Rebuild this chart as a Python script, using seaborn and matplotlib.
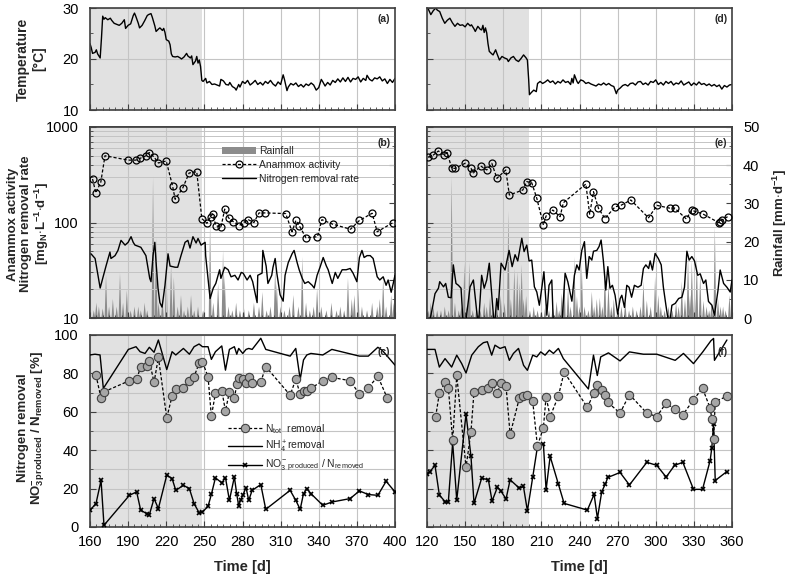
import numpy as np
import matplotlib
matplotlib.use('Agg')
import matplotlib.pyplot as plt
from matplotlib.ticker import MultipleLocator, LogLocator, NullFormatter
from matplotlib.lines import Line2D
from matplotlib.patches import Patch
import seaborn as sns

# ---------------- data: left column (a, b, c) ----------------
temp_a_day = [160, 161, 162, 164, 165, 166, 168, 169, 170, 171, 172, 174, 176, 177, 179, 181, 183, 185, 187, 188,
              190, 192, 194, 195, 196, 198, 199, 201, 203, 205, 206, 208, 209, 211, 212, 214, 215, 217, 218, 219,
              220, 222, 223, 224, 225, 227, 229, 231, 232, 234, 236, 237, 239, 240, 241, 243, 244, 245, 246, 247,
              248, 249, 251, 252, 254, 256, 258, 260, 262, 263, 265, 267, 269, 270, 272, 274, 275, 277, 278, 280,
              282, 284, 286, 288, 290, 292, 294, 296, 298, 300, 302, 304, 306, 308, 310, 312, 313, 315, 316, 318,
              320, 322, 324, 326, 328, 330, 332, 334, 336, 338, 340, 342, 343, 345, 347, 349, 351, 353, 355, 357,
              359, 361, 363, 365, 367, 369, 371, 373, 375, 377, 378, 380, 382, 384, 386, 388, 390, 392, 394, 396,
              398, 400]
temp_a = [23.0, 22.2, 21.1, 21.3, 21.8, 21.0, 20.2, 24.0, 28.4, 27.8, 28.1, 27.7, 28.0, 27.6, 27.0, 26.8, 26.6, 27.0, 27.7, 26.0,
          26.6, 26.9, 28.5, 29.0, 28.4, 27.0, 26.1, 26.6, 27.5, 28.5, 28.7, 28.9, 28.2, 26.5, 25.4, 25.9, 26.1, 25.6, 26.0, 25.2,
          23.8, 23.5, 22.8, 21.0, 20.5, 20.4, 20.5, 20.2, 20.0, 20.4, 21.1, 20.6, 20.2, 20.6, 18.9, 19.6, 20.5, 19.2, 19.8, 18.5,
          15.8, 15.6, 16.2, 15.3, 15.6, 15.0, 15.1, 14.9, 14.7, 16.0, 15.7, 15.0, 14.9, 15.4, 14.6, 14.3, 13.9, 15.0, 14.5, 15.6,
          15.2, 15.8, 14.9, 15.3, 15.8, 15.0, 15.4, 14.9, 15.6, 15.2, 15.8, 15.1, 14.7, 15.5, 15.0, 16.9, 16.0, 13.8, 14.5, 15.2,
          14.9, 15.3, 14.6, 15.0, 14.5, 15.1, 14.8, 15.3, 14.9, 13.9, 14.4, 16.0, 15.6, 14.7, 15.4, 14.9, 15.8, 15.4, 16.1, 15.5,
          16.3, 15.6, 16.4, 15.5, 16.2, 16.0, 16.5, 15.5, 16.2, 15.8, 16.8, 16.0, 15.7, 16.3, 16.1, 16.5, 15.7, 16.1, 15.2, 16.0,
          15.4, 16.2]

anammox_b_day = [162, 164.6, 168.5, 171.8, 190, 196, 199.4, 204, 206.6, 210.4, 213.8, 220, 225, 227, 233, 238, 244,
                 248, 252, 255, 256.5, 259, 263, 266, 269, 272.8, 277.5, 281, 284.5, 289, 293, 298, 314, 319, 322,
                 324.6, 330, 339, 342.5, 351, 365, 372, 382, 386, 398.6]
anammox_b = [285, 204, 265, 500, 450, 450, 470, 500, 540, 485, 420, 440, 240, 175, 230, 330, 340,
             110, 98, 115, 123, 93, 89, 138, 112, 102, 93, 100, 107, 100, 126, 126, 124, 80, 105,
             93, 69, 71, 107, 96, 85, 105, 125, 80, 100]

nrr_b_day = [160.8, 164, 168, 170, 172.6, 175.7, 176.5, 179.7, 182, 184.4, 187.6, 190, 192.3, 194, 195.4, 200, 204, 207,
             208, 209.6, 211, 212, 213.5, 215, 216.7, 219, 221.4, 223, 227, 229, 231.6, 234.8, 237, 238.7, 241, 243.5,
             245, 247.4, 250.6, 251, 254.5, 257, 259, 262, 263, 266, 268.7, 271, 274, 276.5, 279, 280.5, 283.6, 286,
             288, 291.5, 292, 295.4, 296, 298.6, 300, 303, 304, 305.7, 307, 309.6, 312, 313.5, 316, 319, 320.6, 323,
             324.6, 327, 329, 331.7, 334.8, 336.4, 338.7, 341, 343.5, 346, 347.4, 350.6, 353, 355, 358.4, 361.6, 364.7,
             367, 370, 372, 374, 375.7, 378, 380.5, 382.8, 386, 388, 390.7, 393, 394.6, 397, 398.6, 400]
nrr_b = [47, 42, 20.6, 26, 35, 49, 42, 45, 51, 65, 58, 62, 71, 62, 58, 55, 45, 26,
         24, 45, 62, 38, 20.6, 14.5, 13, 22, 47, 35, 34, 34, 45, 62, 65, 54, 71, 61,
         68, 58, 62, 45, 16, 20.6, 23, 32, 26, 34, 32, 27, 28, 25, 30, 29.5, 25, 28,
         24, 14.5, 28, 29.5, 51, 35, 23, 28, 34, 42, 29.5, 17.5, 15, 28, 38, 47, 51, 38,
         32, 26, 23, 24, 22, 20.6, 28, 34, 43, 35, 32, 23, 30, 26, 32, 32, 33,
         29.5, 24, 43, 51, 43, 45, 45, 42, 27, 25, 27, 22, 25, 18.6, 23, 28]

rain_b_day = [163, 165, 167, 170, 172.6, 175, 178, 181, 183.6, 186, 189, 192, 195, 198, 200, 203, 205, 209.6, 212, 214,
              217, 220, 223.8, 226, 229, 231.6, 234, 237, 239.5, 242, 245, 249, 254.5, 257, 260.8, 264.7, 266, 269,
              272, 275, 278, 281, 285, 289, 293, 295.6, 299, 302, 305.7, 307, 310, 313, 317, 320, 324, 327, 330, 333,
              336, 338.7, 342, 346, 350, 354, 357, 360, 363, 366, 368, 371, 374, 378, 382, 386, 388, 390.7, 393, 397, 399]
rain_b = [2, 4, 3, 2.5, 11.3, 3, 5, 3, 11.8, 4, 7.3, 2, 3, 3, 2, 4, 2, 37, 21, 4,
          5, 14.7, 13.9, 10.7, 3, 6, 2, 3, 6, 2, 3, 2, 25, 4, 9, 17.8, 11, 3,
          2, 4, 2, 3, 2, 4, 3, 6.8, 2, 3, 13, 9, 3, 2, 3, 6, 3, 16, 4, 2,
          3, 7.8, 3, 2, 4, 2, 3, 2, 10.5, 5, 6, 8, 3, 2, 4, 3, 5, 10.5, 3, 6, 4]

ntot_c_day = [164.7, 168.7, 171, 191, 196.7, 199.9, 204.6, 206.7, 210.4, 213.8, 220.4, 224.6, 227.5, 233.5, 238.2, 241.9,
              245.8, 248.5, 252.9, 255.5, 258.7, 263.7, 266.6, 269.7, 273.6, 275.5, 277, 280.2, 282.8, 284.9, 287.6,
              294.4, 298.3, 317.5, 321.9, 325.4, 328, 330.6, 333.8, 343.2, 350.3, 364.7, 372, 379, 386.5, 394]
ntot_c = [79.1, 67, 70.4, 76.2, 76.9, 83.5, 83.8, 86.6, 75.3, 88.3, 56.9, 68.2, 71.7, 72.5, 76.2, 78.3,
          85.2, 86.1, 78.1, 57.7, 69.6, 71, 60.5, 70.4, 67, 74.3, 77.4, 76.9, 74.8, 77.9, 75.1,
          75.5, 83.5, 68.7, 76.9, 69.2, 70.6, 70.6, 72.2, 76.2, 77.9, 76.2, 69.2, 72.5, 78.5, 67]

nh4_c_day = [160, 163.9, 167.9, 170.5, 190.2, 196.2, 199.4, 203.3, 206.7, 210.4, 213.8, 220.4, 224.6, 227.5, 233.5,
             238.2, 241.9, 245.8, 248.5, 252.9, 255.5, 258.7, 263.7, 266.6, 269.7, 273.6, 275.5, 277, 280.2, 282.8,
             284.9, 287.6, 294.4, 298.3, 317.5, 321.9, 325.4, 328, 330.6, 333.8, 343.2, 350.3, 372, 379, 386.5, 390,
             400]
nh4_c = [89.6, 90, 89.6, 72.2, 92.5, 93.9, 91.3, 90.4, 93.6, 91, 97.4, 82, 91.3, 89.6, 93,
         90, 93.9, 95.3, 93.9, 93.9, 87.3, 91.3, 94.3, 81.7, 92.5, 93.9, 90, 93, 90.4, 92.5,
         93, 92.5, 98.3, 92.5, 89, 93, 76.9, 87, 89.6, 90.4, 89.6, 92.5, 89, 89, 93.6, 92,
         84.3]

no3_c_day = [160, 164.7, 168.7, 171, 191, 196.7, 199.9, 204.6, 206.7, 210.4, 213.8, 220.4, 224.6, 227.5, 233.5, 238.2,
             241.9, 245.8, 248.5, 252.9, 255.5, 258.7, 263.7, 266.6, 269.7, 273.6, 275.5, 277, 278.6, 280.2, 282.8,
             284.9, 287.6, 294.4, 298.3, 317.5, 321.9, 325.4, 328, 330.6, 333.8, 343.2, 350.3, 364.7, 372, 379,
             386.5, 393, 400]
no3_c = [8.7, 12.2, 24.3, 0.9, 16.5, 18.3, 8.7, 7, 6.4, 14.8, 9.6, 27, 25.2, 19.1, 21.7, 20,
         12.2, 7.5, 7.8, 10.8, 17, 25.6, 23, 25.7, 13.9, 26.1, 17, 11, 14.3, 16.5, 20.5,
         13.9, 19.1, 22.1, 9.2, 19.1, 13.9, 9.2, 17.4, 20, 17.4, 11.3, 13, 14.8, 18.8, 16.9,
         16.5, 23.8, 18.3]

# ---------------- data: right column (d, e, f) ----------------
temp_d_day = [120, 121, 123, 125, 127, 128, 130, 132, 134, 136, 138, 140, 142, 144, 146, 148, 150, 152, 154, 155,
              157, 158, 160, 162, 163, 164, 165, 166, 167, 168, 169, 171, 172, 174, 175, 177, 179, 181, 183, 184,
              186, 188, 190, 192, 194, 196, 198, 199, 200, 200.6, 202, 204, 206, 207, 209, 211, 213, 215, 217, 219,
              221, 223, 225, 227, 229, 231, 233, 234, 235, 236, 238, 239, 241, 243, 245, 247, 249, 251, 253, 255,
              257, 259, 261, 263, 265, 267, 269, 270, 272, 274, 276, 278, 280, 282, 284, 286, 288, 290, 292, 294,
              296, 298, 300, 302, 304, 306, 308, 310, 312, 314, 316, 318, 320, 322, 324, 326, 328, 330, 332, 334,
              336, 338, 340, 342, 344, 346, 348, 350, 352, 354, 356, 358, 360]
temp_d = [30.0, 29.8, 28.7, 29.5, 30.0, 29.6, 29.3, 28.0, 27.0, 27.6, 28.0, 27.1, 26.4, 27.0, 26.6, 26.7, 26.3, 27.0, 26.5, 26.7,
          25.9, 25.4, 26.4, 25.8, 25.7, 26.6, 25.2, 26.1, 25.1, 23.0, 21.5, 21.0, 20.8, 21.8, 21.1, 19.8, 20.5, 20.2, 20.0, 19.5,
          20.2, 20.5, 19.8, 19.5, 20.1, 20.8, 20.2, 19.8, 16.0, 13.0, 13.4, 13.9, 13.6, 15.2, 15.6, 15.2, 15.5, 15.9, 15.4, 15.7,
          15.1, 15.6, 15.3, 15.9, 15.4, 15.6, 15.0, 16.2, 15.3, 16.9, 15.6, 15.2, 15.9, 15.7, 15.2, 15.4, 15.1, 14.9, 14.7, 15.1,
          14.9, 15.3, 14.9, 15.2, 14.8, 14.6, 13.2, 13.9, 14.3, 14.8, 15.0, 14.7, 15.2, 15.3, 14.9, 15.5, 15.6, 15.0, 15.3, 14.9,
          15.6, 15.4, 15.9, 15.0, 15.4, 14.9, 15.6, 15.2, 15.6, 14.9, 15.3, 15.1, 15.7, 14.9, 15.2, 15.5, 14.8, 15.3, 14.9, 15.5,
          15.0, 15.2, 14.8, 15.1, 14.7, 15.0, 14.6, 14.9, 14.1, 14.8, 14.5, 14.9, 15.0]

anammox_e_day = [121, 125, 129, 133.4, 136, 139.4, 142, 150, 154.6, 156.5, 162.3, 167, 171, 175, 182, 184.8, 195.4,
                 198.5, 202.4, 206.4, 211.6, 213.7, 219, 224.7, 227.3, 245, 248, 251, 254.9, 260, 268, 272.5, 280.4,
                 294.3, 301, 311.3, 315, 324, 328.4, 330, 337, 349.4, 350.7, 352, 356.5]
anammox_e = [480, 509, 561, 509, 538, 369, 369, 417, 369, 331, 390, 355, 417, 290, 355, 194, 219,
             268, 261, 179, 94, 117, 135, 115, 161, 253, 122, 210, 141, 110, 146, 151, 172,
             112, 151, 141, 141, 109, 135, 132, 123, 100, 102, 106, 115]

nrr_e_day = [121, 123.7, 126.3, 129, 130, 133, 134.7, 136.8, 139, 140.7, 142.8, 144.7, 146.8, 148.6, 150, 153.9, 156.5,
             158.3, 160.4, 163, 165, 167, 169, 171, 173, 174.9, 176, 178.3, 181.4, 184.6, 187, 189.3, 191.4, 194.6,
             196.4, 198.5, 200.3, 202.4, 204.5, 206.4, 208.4, 210.3, 212, 214.3, 216, 218.2, 219.5, 226, 228.7, 230.8,
             234, 236, 237.9, 239.7, 241.8, 243.9, 245.7, 247.6, 249.7, 251, 253.6, 255.4, 257, 258.8, 260.7, 262.3,
             264, 265.9, 268, 270, 272, 273.3, 275.4, 277.2, 279, 281, 283.2, 286, 288.5, 290.3, 292.2, 294.4, 295.6,
             297.4, 299.5, 302, 304.3, 306, 308, 310.6, 312.7, 315.3, 318, 320.6, 322.6, 324.5, 326.3, 328.4, 330.5,
             333, 335, 337.6, 339.4, 341.5, 344.2, 346.2, 349, 350.7, 353.4, 356, 358.6, 360]
nrr_e = [8, 11.7, 18, 20.5, 24, 21.2, 23, 16.5, 16.3, 36, 23, 22, 20.5, 8, 8, 21.2, 25,
         14.9, 8, 28, 20.5, 25, 37.5, 17.3, 8, 16, 12.2, 37.5, 31.8, 51, 34.5, 46, 39.6, 68.4,
         49.6, 58, 39.6, 40.4, 21.2, 18.7, 13.6, 20.5, 30.5, 10.7, 22, 25, 8, 8, 29.4, 24,
         15, 28, 36, 31.8, 51, 63, 26, 44, 40.4, 50, 51, 56, 65.5, 39.6, 19.6, 34.5,
         20.5, 22, 17.3, 11, 16, 17.3, 12.9, 22, 21, 16.5, 22, 21, 22, 33, 36, 33, 39.6,
         31.8, 47.5, 42, 36, 21, 13.6, 8, 13.6, 14.2, 16, 16.5, 21, 50, 40.4, 44, 39.6,
         28, 29, 23, 25, 14.9, 13.6, 10.7, 19.6, 31.8, 23, 21, 18.7, 25]

rain_e_day = [121, 123, 125, 128, 131, 134, 137, 139.4, 142, 145, 147, 149.4, 151, 153.3, 156, 159, 162, 165, 167,
              169.6, 172, 175, 178, 181, 184, 186, 188.7, 191, 193, 194.5, 196, 198, 201, 204, 207, 210, 213, 216,
              219, 222, 224, 226, 228, 231, 233, 236, 238, 240, 241.8, 244, 247, 249.7, 251.5, 253.6, 256, 258, 260,
              262.8, 265, 267, 270, 273, 276, 279, 282, 285, 288, 290.3, 293, 296, 299.5, 302, 304, 307, 310, 313,
              316, 318, 320.5, 323, 325.4, 327, 328.4, 330.5, 332.3, 335, 337.6, 340, 342, 344, 346.5, 349, 351,
              353, 355, 358, 360]
rain_e = [2, 4, 3, 2, 2, 3, 2, 37.2, 4, 2, 3, 14.4, 3, 14.6, 2, 3, 2, 4, 3,
          5.6, 2, 3, 6, 4, 28, 5, 13, 12.2, 9.2, 14, 5, 5.8, 2, 3, 2, 2, 3, 2,
          3, 4.3, 2, 6.5, 12.2, 8, 3, 16, 5.7, 3, 14, 3, 2, 6.9, 3, 5, 5.3, 3, 14,
          9, 3, 5, 2, 3, 4, 2, 3, 2, 3, 9.6, 4.6, 3, 10.9, 6, 3, 2, 3, 2,
          4, 3, 9.6, 5, 16, 6, 15, 8, 16, 11.5, 4.5, 3, 2, 4, 24, 5, 3,
          3, 2, 6, 3]

ntot_f_day = [126.8, 129.7, 134.2, 136.8, 140.2, 143.4, 150.7, 154.6, 157, 163, 168.3, 171.2, 175.4, 178, 182.2, 185.4,
              192.7, 195.9, 199, 203.2, 206.9, 211.6, 213.7, 216.9, 223.4, 227.9, 246.2, 251.5, 254.1, 257.5, 260.4,
              262.3, 271.9, 279.3, 293, 300.8, 308.2, 314.8, 321.3, 329.7, 336.8, 342.8, 344.1, 345.5, 346.8, 356]
ntot_f = [57.4, 69.6, 75.4, 72.5, 45.1, 79, 31.1, 49.6, 70.5, 71.6, 72.3, 75.1, 69.8, 74.9, 73.3, 48.2,
          67.2, 68.4, 69, 65.4, 42.1, 51.8, 67.9, 57.5, 68.2, 80.7, 62.3, 70, 74, 71.6, 69,
          64.9, 59.3, 69, 59.3, 57.5, 64.6, 61.4, 58.4, 66.3, 72.3, 61.9, 56.5, 45.6, 65.3, 68.1]

nh4_f_day = [120, 121.8, 126.3, 129.7, 134.2, 139.4, 143.4, 147.3, 150.7, 155.2, 160.4, 164.4, 167.5, 170.9, 173.5,
             177.5, 181.4, 184.8, 188, 192, 196, 199, 203.2, 206.4, 209.5, 212.9, 216.3, 219.5, 223.4, 227.3, 247,
             251, 254, 256.7, 262.8, 271.9, 279.3, 290.3, 300.8, 315.3, 321.8, 329.7, 337, 343.4, 345.5, 346.2, 356]
nh4_f = [92.5, 92.5, 92.5, 83.3, 87.7, 83.3, 89.5, 85.1, 80.2, 89.5, 93.9, 96, 96.5, 89.5, 94.7,
         93, 93.9, 86.8, 90.4, 93, 84.2, 81.6, 89.5, 88.6, 91.2, 89.5, 92.1, 90.4, 93, 87.7, 71.9,
         89.5, 78.9, 88.6, 90.7, 86.5, 91.2, 90, 90, 86.8, 90.4, 85.1, 91.2, 97, 98.2, 86.8, 97.4]

no3_f_day = [120, 122.4, 126.3, 129.7, 134.2, 136.8, 140.2, 143.4, 150.7, 154.6, 157, 163, 168.3, 171.2, 175.4, 178,
             182.2, 185.4, 192.7, 195.9, 199, 203.2, 206.9, 211.6, 213.7, 216.9, 223.4, 227.9, 246.2, 251.5, 254.1,
             257.5, 260.4, 262.3, 271.9, 279.3, 293, 300.8, 308.2, 314.8, 321.3, 329.7, 336.8, 342.8, 344.1, 345.5,
             346.8, 356]
no3_f = [27.5, 28.9, 32.1, 16.7, 13.2, 13.2, 43.9, 14, 58.8, 36.8, 12.3, 25.4, 24.6, 13.5, 20.7, 18.9,
         14.6, 24.6, 20.2, 21.1, 8.4, 26, 41.8, 43.3, 19.3, 36.8, 22.3, 12.3, 8.8, 17, 4.4,
         18.4, 22.5, 25.8, 28.4, 21.9, 33.7, 32.1, 26, 32.1, 33.7, 19.6, 19.6, 34.6, 41.2, 53.5,
         24.2, 28.9]

# shaded (summer) periods and axis ranges
shade_left = (160, 248)
shade_right = (120, 200)
xlim_left = (160, 400)
xlim_right = (120, 360)
xticks_left = [160, 190, 220, 250, 280, 310, 340, 370, 400]
xticks_right = [120, 150, 180, 210, 240, 270, 300, 330, 360]

# ---------------- style ----------------
sns.set_style('ticks')
plt.rcParams['font.family'] = ['Liberation Sans', 'DejaVu Sans']
plt.rcParams['mathtext.fontset'] = 'custom'
plt.rcParams['mathtext.rm'] = 'Liberation Sans'
plt.rcParams['mathtext.it'] = 'Liberation Sans:italic'
plt.rcParams['mathtext.bf'] = 'Liberation Sans:bold'

W, H = 789, 575
fig = plt.figure(figsize=(W / 100, H / 100), dpi=100)

SHADE = '#e1e1e1'
GRID = '#c4c4c4'
SPINE = '#404040'
RAIN = '#8c8c8c'
DASH = (0, (2.5, 1.6))


def rect(x0, x1, y0, y1):
    return [x0 / W, 1 - y1 / H, (x1 - x0) / W, (y1 - y0) / H]


def frame(ax, xlim, xticks, show_x, show_y):
    ax.set_xlim(*xlim)
    ax.set_xticks(xticks)
    ax.xaxis.set_minor_locator(MultipleLocator(5))
    ax.tick_params(which='both', direction='in', colors=SPINE, labelcolor='black', labelsize=10.5)
    ax.tick_params(which='major', length=4, width=0.8)
    ax.tick_params(which='minor', length=2.5, width=0.6)
    ax.tick_params(axis='y', pad=8)
    ax.tick_params(axis='x', pad=6)
    ax.grid(True, axis='x', which='major', color=GRID, lw=0.8)
    ax.set_axisbelow(True)
    for s in ax.spines.values():
        s.set_color(SPINE)
        s.set_linewidth(1.2)
    if not show_x:
        ax.set_xticklabels([])
    if not show_y:
        ax.tick_params(axis='y', which='both', labelleft=False)
    ax.set_xlabel('')
    ax.set_ylabel('')


def panel_tag(ax, tag):
    ax.text(0.985, 0.94, tag, transform=ax.transAxes, ha='right', va='top',
            fontsize=7.5, fontweight='bold', zorder=10)


def rain_spikes(ax, days, mm):
    # each daily rainfall value drawn as a narrow spike from zero
    for d, h in zip(days, mm):
        ax.fill([d - 1.1, d, d + 1.1], [0, h, 0], color=RAIN, lw=0, zorder=1)


columns = [
    dict(x0=90, x1=395, xlim=xlim_left, xticks=xticks_left, shade=shade_left, left=True,
         temp=(temp_a_day, temp_a), anammox=(anammox_b_day, anammox_b), nrr=(nrr_b_day, nrr_b),
         rain=(rain_b_day, rain_b), ntot=(ntot_c_day, ntot_c), nh4=(nh4_c_day, nh4_c),
         no3=(no3_c_day, no3_c), tags=('(a)', '(b)', '(c)')),
    dict(x0=427, x1=732, xlim=xlim_right, xticks=xticks_right, shade=shade_right, left=False,
         temp=(temp_d_day, temp_d), anammox=(anammox_e_day, anammox_e), nrr=(nrr_e_day, nrr_e),
         rain=(rain_e_day, rain_e), ntot=(ntot_f_day, ntot_f), nh4=(nh4_f_day, nh4_f),
         no3=(no3_f_day, no3_f), tags=('(d)', '(e)', '(f)')),
]

for col in columns:
    # ---- temperature ----
    ax = fig.add_axes(rect(col['x0'], col['x1'], 8, 110))
    ax.axvspan(*col['shade'], color=SHADE, lw=0, zorder=0)
    sns.lineplot(x=col['temp'][0], y=col['temp'][1], ax=ax, color='black', lw=1.0, estimator=None)
    ax.set_ylim(10, 30)
    ax.set_yticks([10, 20, 30])
    ax.yaxis.set_minor_locator(MultipleLocator(5))
    frame(ax, col['xlim'], col['xticks'], False, col['left'])
    ax.grid(True, axis='y', which='major', color=GRID, lw=0.8)
    panel_tag(ax, col['tags'][0])

    # ---- rates (log) + rainfall ----
    ax = fig.add_axes(rect(col['x0'], col['x1'], 127, 318))
    axr = ax.twinx()
    ax.set_zorder(axr.get_zorder() + 1)
    ax.patch.set_visible(False)
    axr.axvspan(*col['shade'], color=SHADE, lw=0, zorder=0)
    rain_spikes(axr, *col['rain'])
    axr.set_xlim(*col['xlim'])
    axr.set_ylim(0, 50)
    axr.set_yticks([0, 10, 20, 30, 40, 50])
    axr.yaxis.set_minor_locator(MultipleLocator(5))
    axr.tick_params(which='both', direction='in', colors=SPINE, labelcolor='black', labelsize=10.5, pad=8)
    axr.tick_params(which='major', length=4, width=0.8)
    axr.tick_params(which='minor', length=2.5, width=0.6)
    if col['left']:
        axr.tick_params(axis='y', which='both', labelright=False)
    else:
        axr.set_ylabel(r'Rainfall [mm$\cdot$d$^{\mathbf{-1}}$]', fontsize=9.5, fontweight='bold', labelpad=8)

    sns.lineplot(x=col['nrr'][0], y=col['nrr'][1], ax=ax, color='black', lw=1.0, estimator=None, zorder=3)
    sns.lineplot(x=col['anammox'][0], y=col['anammox'][1], ax=ax, color='black', lw=0.9,
                 linestyle=DASH, marker='o', ms=5, mfc='none', mec='black', mew=0.9,
                 estimator=None, zorder=4)
    ax.set_yscale('log')
    ax.set_ylim(10, 1000)
    ax.yaxis.set_minor_locator(LogLocator(base=10, subs=np.arange(2, 10), numticks=20))
    ax.yaxis.set_minor_formatter(NullFormatter())
    frame(ax, col['xlim'], col['xticks'], False, col['left'])
    ax.set_yticks([10, 100, 1000])
    if col['left']:
        ax.set_yticklabels(['10', '100', '1000'])
    ax.grid(True, axis='y', which='both', color=GRID, lw=0.7)
    for s in axr.spines.values():
        s.set_color(SPINE)
        s.set_linewidth(1.2)
    panel_tag(ax, col['tags'][1])

    if col['left']:
        handles = [Patch(color=RAIN, lw=0),
                   Line2D([], [], color='black', lw=0.9, ls=DASH, marker='o', ms=5, mfc='none', mew=0.9),
                   Line2D([], [], color='black', lw=1.0)]
        ax.legend(handles, ['Rainfall', 'Anammox activity', 'Nitrogen removal rate'],
                  loc='upper left', bbox_to_anchor=(0.42, 0.92), frameon=False, fontsize=7.5,
                  handlelength=3.2, labelspacing=0.35, handletextpad=0.3, borderaxespad=0)

    # ---- removal efficiencies ----
    ax = fig.add_axes(rect(col['x0'], col['x1'], 335, 527))
    ax.axvspan(*col['shade'], color=SHADE, lw=0, zorder=0)
    sns.lineplot(x=col['nh4'][0], y=col['nh4'][1], ax=ax, color='black', lw=1.0, estimator=None, zorder=3)
    sns.lineplot(x=col['no3'][0], y=col['no3'][1], ax=ax, color='black', lw=1.0, marker='x', ms=3.2,
                 mec='black', mew=1.2, estimator=None, zorder=3)
    sns.lineplot(x=col['ntot'][0], y=col['ntot'][1], ax=ax, color='black', lw=0.9, linestyle=DASH,
                 marker='o', ms=6, mfc='#a6a6a6', mec='#404040', mew=0.8, estimator=None, zorder=4)
    ax.set_ylim(0, 100)
    ax.set_yticks([0, 20, 40, 60, 80, 100])
    ax.yaxis.set_minor_locator(MultipleLocator(10))
    frame(ax, col['xlim'], col['xticks'], True, col['left'])
    ax.grid(True, axis='y', which='both', color=GRID, lw=0.8)
    ax.set_xlabel('Time [d]', fontsize=10.5, fontweight='bold', labelpad=8)
    panel_tag(ax, col['tags'][2])

    if col['left']:
        handles = [Line2D([], [], color='black', lw=0.9, ls=DASH, marker='o', ms=6,
                          mfc='#a6a6a6', mec='#404040', mew=0.8),
                   Line2D([], [], color='black', lw=1.0),
                   Line2D([], [], color='black', lw=1.0, marker='x', ms=3.2, mew=1.2)]
        ax.legend(handles, [r'N$_{\rm tot}$  removal', r'NH$_4^+$removal',
                            r'NO$_3^-$$_{\rm produced}$ / N$_{\rm removed}$'],
                  loc='upper left', bbox_to_anchor=(0.44, 0.57), frameon=False, fontsize=7.5,
                  handlelength=3.2, labelspacing=0.3, handletextpad=0.3, borderaxespad=0)

# ---- y-axis titles of the left column ----
fig.text(31 / W, 1 - 59 / H, 'Temperature\n[°C]', rotation=90, ha='center', va='center',
         fontsize=10, fontweight='bold', linespacing=1.15)
fig.text(29 / W, 1 - 224 / H,
         'Anammox activity\nNitrogen removal rate\n' + r'[mg$_{\mathbf{N}}$$\cdot$L$^{\mathbf{-1}}$$\cdot$d$^{\mathbf{-1}}$]',
         rotation=90, ha='center', va='center', fontsize=9.5, fontweight='bold', linespacing=1.05)
fig.text(32 / W, 1 - 428 / H,
         'Nitrogen removal\n' + r'NO$_{\mathbf{3}}^{\mathbf{-}}$$_{\mathbf{produced}}$ / N$_{\mathbf{removed}}$ [%]',
         rotation=90, ha='center', va='center', fontsize=9.5, fontweight='bold', linespacing=1.1)

fig.savefig('out.png', dpi=100)
